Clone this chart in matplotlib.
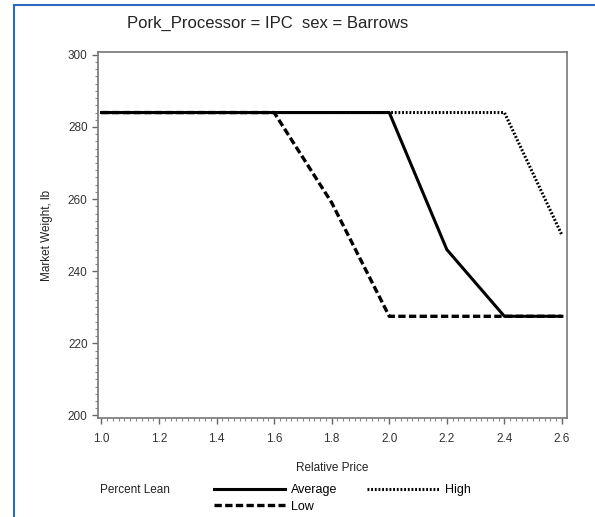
import matplotlib.pyplot as plt
from matplotlib.ticker import MultipleLocator
from matplotlib.lines import Line2D

# data
price = [1.0, 1.2, 1.4, 1.6, 1.8, 2.0, 2.2, 2.4, 2.6]
average = [284, 284, 284, 284, 284, 284, 246, 227.5, 227.5]
low = [284, 284, 284, 284, 259, 227.5, 227.5, 227.5, 227.5]
high = [284, 284, 284, 284, 284, 284, 284, 284, 250]

plt.rcParams['font.family'] = ['Liberation Sans', 'DejaVu Sans']

fig = plt.figure(figsize=(5.95, 5.17), dpi=100)
ax = fig.add_axes([0.1647, 0.1915, 0.788, 0.708])

ax.plot(price, high, color='black', lw=2.2, linestyle=(0, (0.6, 0.6)))
ax.plot(price, low, color='black', lw=2.4, linestyle=(0, (2.2, 1.0)))
ax.plot(price, average, color='black', lw=2.2)

ax.set_xlim(0.988, 2.617)
ax.set_ylim(199.3, 300.8)
ax.xaxis.set_major_locator(MultipleLocator(0.2))
ax.xaxis.set_minor_locator(MultipleLocator(0.02))
ax.yaxis.set_major_locator(MultipleLocator(20))
ax.yaxis.set_minor_locator(MultipleLocator(2))
ax.xaxis.set_major_formatter(lambda v, p: f'{v:.1f}')

for s in ax.spines.values():
    s.set_color('#777777')
    s.set_linewidth(1.2)
ax.tick_params(which='major', length=4, width=1, color='#666666',
               labelsize=8.5, labelcolor='#333333')
ax.tick_params(axis='x', which='major', pad=7)
ax.tick_params(which='minor', length=2, width=0.8, color='#888888')

ax.set_xlabel('Relative Price', fontsize=8.5, color='#222222', labelpad=12)
ax.set_ylabel('Market Weight, lb', fontsize=8.5, color='#222222', labelpad=11)

fig.text(0.45, 0.955, 'Pork_Processor = IPC  sex = Barrows', ha='center',
         va='center', fontsize=12, color='#222222')

# legend
fig.text(0.168, 0.052, 'Percent Lean', fontsize=8.5, color='#222222', va='center')
handles = [
    Line2D([0], [0], color='black', lw=2.2),
    Line2D([0], [0], color='black', lw=2.4, linestyle=(0, (2.2, 1.0))),
    Line2D([0], [0], color='black', lw=2.2, linestyle=(0, (0.6, 0.6))),
]
fig.legend(handles, ['Average', 'Low', 'High'], ncol=2, frameon=False,
           loc='center left', bbox_to_anchor=(0.34, 0.036), fontsize=9,
           handlelength=5.7, handletextpad=0.5, columnspacing=2.4,
           labelspacing=0.35)

# blue page border on left and top
fig.add_artist(Line2D([14 / 595, 14 / 595], [0, 1 - 5 / 517], color='#2a6ac0', lw=1.5))
fig.add_artist(Line2D([14 / 595, 1], [1 - 5 / 517, 1 - 5 / 517], color='#2a6ac0', lw=1.5))

fig.savefig('out.png', dpi=100)
